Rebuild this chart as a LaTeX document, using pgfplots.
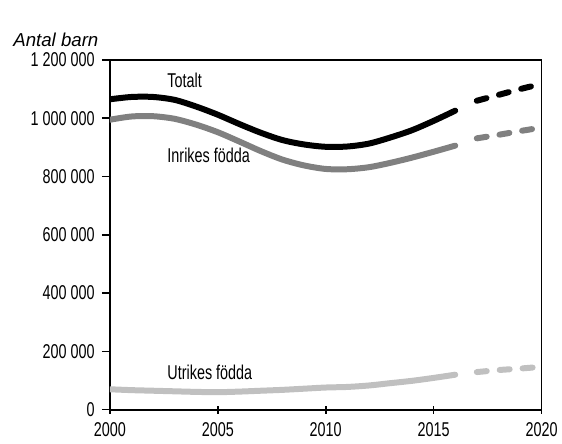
\documentclass[border=0pt]{standalone}
\usepackage{fontspec}
\setmainfont{Liberation Sans}[FakeStretch=0.72]
\newfontfamily\titlefont{Liberation Sans}
\usepackage{pgfplots}
\pgfplotsset{compat=1.18}

\pgfplotstableread{
year tot inr utr
2000 1065000 995000 70000
2001 1073000 1006000 67000
2002 1073000 1007000 65000
2003 1063000 998000 63000
2004 1040000 978000 61000
2005 1012000 952000 60000
2006 980000 920000 62000
2007 950000 887000 65000
2008 925000 858000 68000
2009 910000 838000 72000
2010 902000 826000 76000
2011 903000 825000 78000
2012 913000 832000 83000
2013 934000 847000 91000
2014 959000 865000 99000
2015 991000 885000 109000
2016 1026000 906000 120000
}\obs
\pgfplotstableread{
year tot inr utr
2017 1060000 931000 129000
2018 1080000 943000 136000
2019 1100000 956000 141000
2020 1118000 968000 147000
}\prog

\definecolor{midgray}{HTML}{808080}
\definecolor{lgray}{HTML}{C0C0C0}

\begin{document}
\begin{tikzpicture}
\begin{axis}[
    name=ax,
    width=324pt, height=262.5pt, scale only axis,
    xmin=2000, xmax=2020, ymin=0, ymax=1200000,
    xtick={2000,2005,...,2020},
    ytick={0,200000,...,1200000},
    yticklabels={0,200 000,400 000,600 000,800 000,1 000 000,1 200 000},
    axis line style={line width=1.4pt},
    major tick style={black, line width=1.2pt},
    major tick length=6pt,
    xtick pos=bottom, ytick pos=left,
    xtick align=center, ytick align=outside,
    scaled y ticks=false,
    /pgf/number format/assume math mode=true,
    /pgf/number format/1000 sep={},
    tick label style={font=\fontsize{15}{16}\selectfont},
    xticklabel style={yshift=-3pt},
    yticklabel style={xshift=-2pt},
]
\addplot[black, line width=4.5pt, line cap=round, smooth, mark=none] table[x=year, y=tot] {\obs};
\addplot[black, line width=4.5pt, line cap=round, dash pattern=on 7.5pt off 9.75pt, mark=none] table[x=year, y=tot] {\prog};
\addplot[midgray, line width=4.5pt, line cap=round, smooth, mark=none] table[x=year, y=inr] {\obs};
\addplot[midgray, line width=4.5pt, line cap=round, dash pattern=on 7.5pt off 9.75pt, mark=none] table[x=year, y=inr] {\prog};
\addplot[lgray, line width=4.5pt, line cap=round, smooth, mark=none] table[x=year, y=utr] {\obs};
\addplot[lgray, line width=4.5pt, line cap=round, dash pattern=on 7.5pt off 9.75pt, mark=none] table[x=year, y=utr] {\prog};

\node[anchor=west, font=\fontsize{15}{16}\selectfont] at (axis cs:2002.45,1131000) {Totalt};
\node[anchor=west, font=\fontsize{15}{16}\selectfont] at (axis cs:2002.45,874000) {Inrikes födda};
\node[anchor=west, font=\fontsize{15}{16}\selectfont] at (axis cs:2002.45,127000) {Utrikes födda};
\end{axis}
% top and right frame lines, as thin filled strips
\fill[black] ([shift={(-0.6pt,-0.5pt)}]ax.north west) rectangle ([shift={(0.5pt,0.5pt)}]ax.north east);
\fill[black] ([shift={(-0.5pt,-0.6pt)}]ax.south east) rectangle ([shift={(0.5pt,0.5pt)}]ax.north east);
\node[anchor=west, font=\titlefont\itshape\fontsize{14}{16}\selectfont] at ([shift={(-76pt,15pt)}]ax.north west) {Antal barn};
\path ([shift={(-82.5pt,-25.5pt)}]ax.south west) rectangle ([shift={(15pt,45pt)}]ax.north east);
\end{tikzpicture}
\end{document}
